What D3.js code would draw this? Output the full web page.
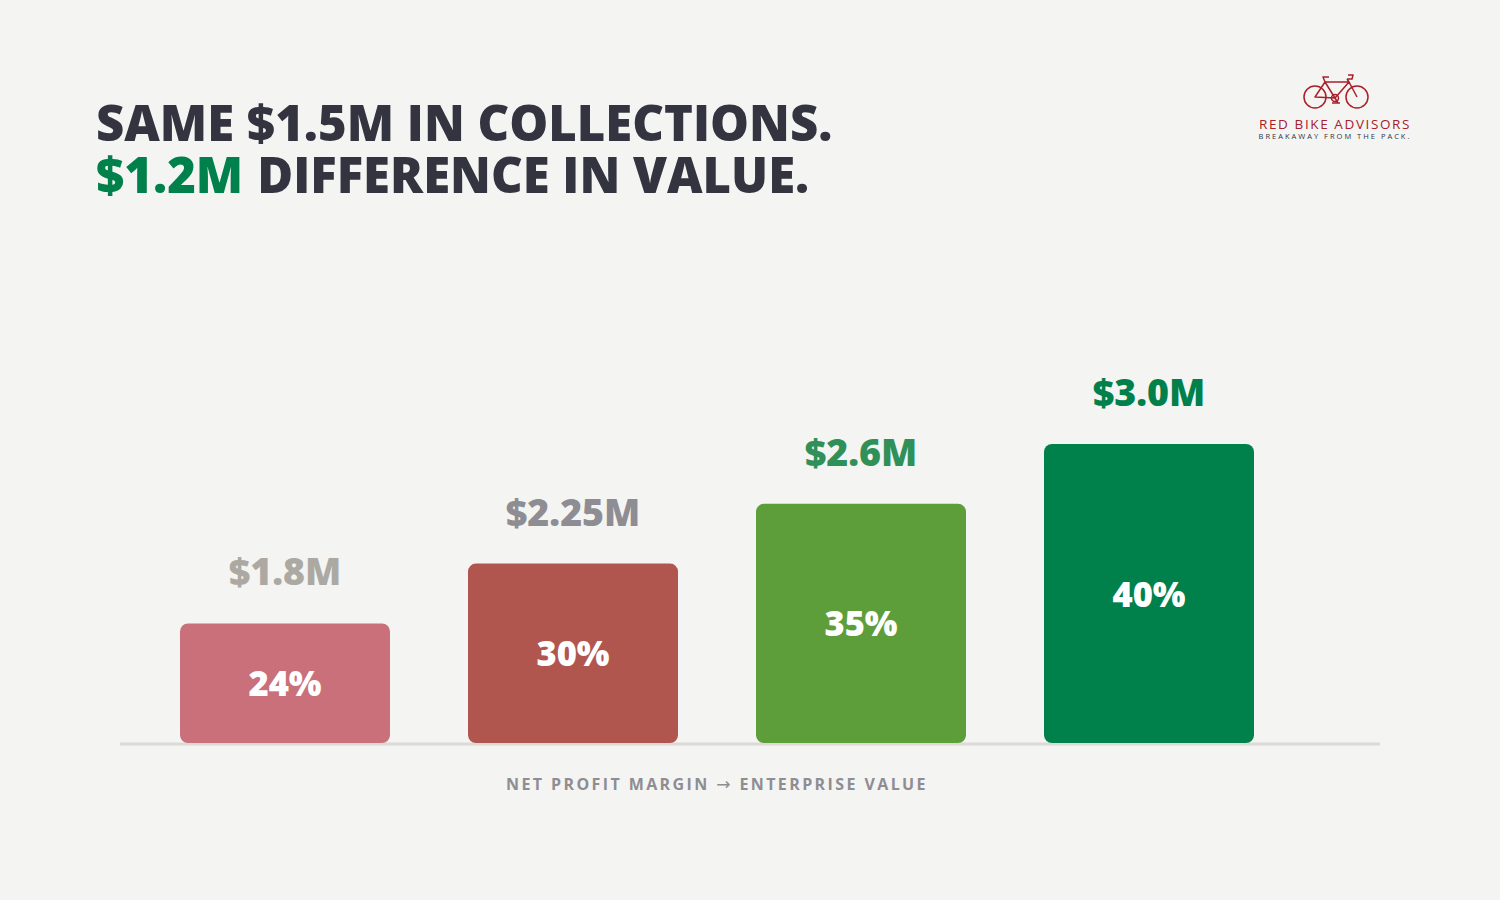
<!DOCTYPE html>
<html>
<head>
<meta charset="utf-8">
<script src="https://cdn.jsdelivr.net/npm/d3@7"></script>
<style>
  body { margin: 0; background: #f4f4f2; }
  #container { width: 1500px; height: 900px; }
  text { font-family: "Open Sans", "Noto Sans", sans-serif; }
</style>
</head>
<body>
<div id="container"></div>
<script>
    // Data
    const categories = ["24%", "30%", "35%", "40%"];
    const values = [1.8, 2.25, 2.6, 3.0];
    const valueLabels = ["$1.8M", "$2.25M", "$2.6M", "$3.0M"];
    const barColors = ["#c9707a", "#b0564f", "#5e9e3a", "#00804a"];
    const labelColors = ["#aba9a2", "#8e8d93", "#2f9058", "#00804a"];
    // bars step up evenly in the picture
    const barLevels = [2, 3, 4, 5];

    const W = 1500, H = 900;
    const svg = d3.select("#container")
                    .append("svg")
                    .attr("width", W)
                    .attr("height", H);

    svg.append("rect").attr("width", W).attr("height", H).attr("fill", "#f4f4f2");

    // Title, two lines
    function titleText(xPos, yPos, str, color) {
        return svg.append("text")
            .attr("x", xPos)
            .attr("y", yPos)
            .attr("font-size", "49px")
            .attr("font-weight", 800)
            .attr("fill", color)
            .text(str);
    }
    titleText(96, 141, "SAME $1.5M IN COLLECTIONS.", "#33343f");
    const green = titleText(96, 193, "$1.2M", "#00804a");
    const gw = green.node().getComputedTextLength();
    titleText(96 + gw + 14, 193, "DIFFERENCE IN VALUE.", "#33343f");

    // Scales
    const baseline = 743;
    const x = d3.scaleBand()
                .domain(categories)
                .range([180, 1254])
                .paddingInner(78 / 288)
                .paddingOuter(0);
    const y = d3.scaleLinear()
                .domain([0, 5])
                .range([baseline, baseline - 299]);

    // Baseline
    svg.append("line")
        .attr("x1", 120).attr("x2", 1380)
        .attr("y1", baseline + 1).attr("y2", baseline + 1)
        .attr("stroke", "#dcdad6")
        .attr("stroke-width", 3);

    const g = svg.append("g");

    // Bars
    g.selectAll(".bar")
        .data(categories)
        .enter()
        .append("rect")
        .attr("class", "bar")
        .attr("x", d => x(d))
        .attr("y", (d, i) => y(barLevels[i]))
        .attr("width", x.bandwidth())
        .attr("height", (d, i) => baseline - y(barLevels[i]))
        .attr("rx", 8)
        .attr("fill", (d, i) => barColors[i]);

    // Percent labels inside the bars
    g.selectAll(".pct")
        .data(categories)
        .enter()
        .append("text")
        .attr("class", "pct")
        .attr("text-anchor", "middle")
        .attr("x", d => x(d) + x.bandwidth() / 2)
        .attr("y", (d, i) => (y(barLevels[i]) + baseline) / 2 + 13)
        .attr("font-size", "34.5px")
        .attr("font-weight", 800)
        .attr("fill", "#ffffff")
        .text(d => d);

    // Value labels above the bars
    g.selectAll(".val")
        .data(values)
        .enter()
        .append("text")
        .attr("class", "val")
        .attr("text-anchor", "middle")
        .attr("x", (d, i) => x(categories[i]) + x.bandwidth() / 2)
        .attr("y", (d, i) => y(barLevels[i]) - 38)
        .attr("font-size", "37.5px")
        .attr("font-weight", 800)
        .attr("fill", (d, i) => labelColors[i])
        .text((d, i) => valueLabels[i]);

    // Axis caption
    const cap = svg.append("text")
        .attr("x", 717)
        .attr("y", 790)
        .attr("text-anchor", "middle")
        .attr("font-size", "16px")
        .attr("font-weight", 700)
        .attr("letter-spacing", "2.4px")
        .attr("fill", "#8e8d93");
    cap.append("tspan").text("NET PROFIT MARGIN ");
    cap.append("tspan")
        .style("font-family", "'DejaVu Sans', sans-serif")
        .attr("font-weight", 400)
        .attr("font-size", "17px")
        .text("\u2192");
    cap.append("tspan").text(" ENTERPRISE VALUE");

    // Logo
    const logo = svg.append("g").attr("transform", "translate(1335,0)");
    const red = "#a8202a";
    const bike = logo.append("g")
        .attr("fill", "none")
        .attr("stroke", red)
        .attr("stroke-width", 1.5)
        .attr("stroke-linejoin", "round");
    bike.append("circle").attr("cx", -20).attr("cy", 97).attr("r", 11);
    bike.append("circle").attr("cx", 22).attr("cy", 97).attr("r", 11);
    bike.append("circle").attr("cx", 0).attr("cy", 98).attr("r", 3.5);
    // frame
    bike.append("path").attr("d", "M-20,97 L-10,82 L0,98 Z M-10,82 L14,82 L0,98 M14,82 L22,97 M14,82 L12,79 M-10,82 L-12,77 L-6,77 M12,79 L17,79 L18,75 L13,75");
    bike.append("path").attr("d", "M0,98 L3,103 M-3,103 L5,103");

    logo.append("text")
        .attr("x", 0).attr("y", 129)
        .attr("text-anchor", "middle")
        .attr("font-size", "13.5px")
        .attr("letter-spacing", "1.6px")
        .attr("fill", red)
        .text("RED BIKE ADVISORS");
    logo.append("text")
        .attr("x", 0).attr("y", 139)
        .attr("text-anchor", "middle")
        .attr("font-size", "7.5px")
        .attr("letter-spacing", "2px")
        .attr("fill", "#33343f")
        .text("BREAKAWAY FROM THE PACK.");
</script>
</body>
</html>
